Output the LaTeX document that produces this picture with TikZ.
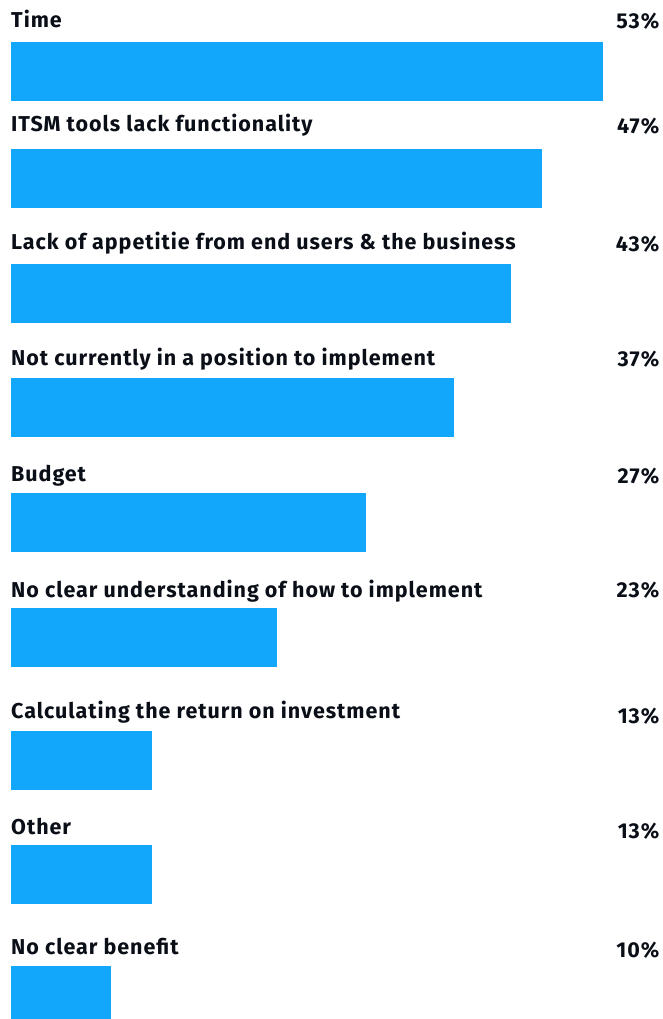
\documentclass[tikz,border=0pt]{standalone}
\usepackage{fontspec}
\setmainfont{Fira Sans}[LetterSpace=4.5]
\definecolor{barblue}{HTML}{13A7FB}
\definecolor{ink}{HTML}{0A0E17}
\begin{document}
\begin{tikzpicture}[x=1pt,y=-1pt,
  lbl/.style={anchor=base west,inner sep=0pt,text=ink,font=\fontsize{21.5}{24}\selectfont\bfseries},
  pct/.style={anchor=base east,inner sep=0pt,text=ink,font=\fontsize{21.5}{24}\selectfont\bfseries},
  bar/.style={anchor=north west,fill=barblue,draw=none,inner sep=0pt,minimum height=58.5pt}]
\useasboundingbox[fill=white] (0,0) rectangle (662,1019);
\node[lbl] (l1) at (11,28) {Time};
\node[pct] (p1) at (659.5,29) {53\%};
\node[bar,minimum width=592pt] (b1) at (11,42) {};
\node[lbl] (l2) at (11,132) {ITSM tools lack functionality};
\node[pct] (p2) at (659.5,134) {47\%};
\node[bar,minimum width=531pt] (b2) at (11,149) {};
\node[lbl] (l3) at (11,249) {Lack of appetitie from end users \& the business};
\node[pct] (p3) at (659.5,251) {43\%};
\node[bar,minimum width=500pt] (b3) at (11,264) {};
\node[lbl] (l4) at (11,365) {Not currently in a position to implement};
\node[pct] (p4) at (659.5,366) {37\%};
\node[bar,minimum width=443pt] (b4) at (11,378) {};
\node[lbl] (l5) at (11,481) {Budget};
\node[pct] (p5) at (659.5,483) {27\%};
\node[bar,minimum width=355pt] (b5) at (11,493) {};
\node[lbl] (l6) at (11,597) {No clear understanding of how to implement};
\node[pct] (p6) at (659.5,597) {23\%};
\node[bar,minimum width=266pt] (b6) at (11,608) {};
\node[lbl] (l7) at (11,718) {Calculating the return on investment};
\node[pct] (p7) at (659.5,723) {13\%};
\node[bar,minimum width=141pt] (b7) at (11,731) {};
\node[lbl] (l8) at (11,834) {Other};
\node[pct] (p8) at (659.5,838) {13\%};
\node[bar,minimum width=141pt] (b8) at (11,845) {};
\node[lbl] (l9) at (11,954) {No clear benefit};
\node[pct] (p9) at (659.5,957) {10\%};
\node[bar,minimum width=100pt,minimum height=53pt] (b9) at (11,966) {};
\end{tikzpicture}
\end{document}
